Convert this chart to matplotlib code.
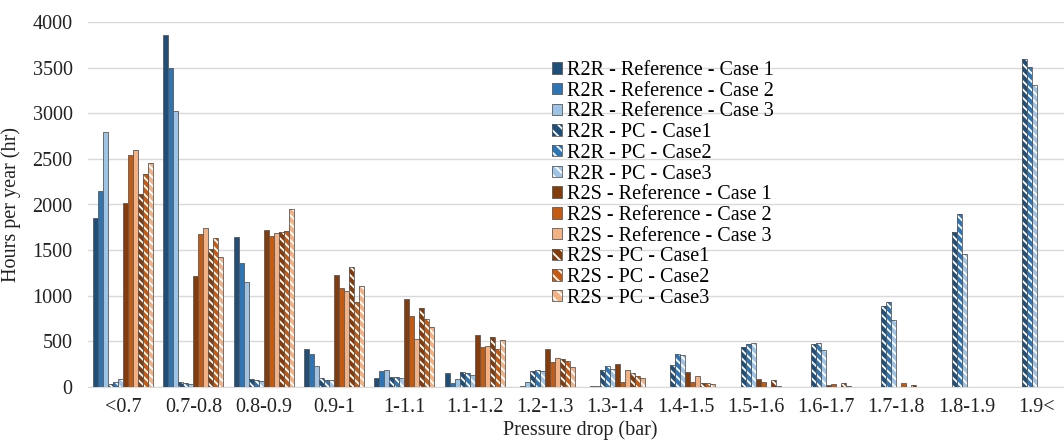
import numpy as np
import matplotlib
matplotlib.use("Agg")
import matplotlib.pyplot as plt
from matplotlib.patches import Patch

plt.rcParams['font.family'] = ['Liberation Serif', 'DejaVu Serif']
plt.rcParams['hatch.linewidth'] = 1.3

categories = ['<0.7', '0.7-0.8', '0.8-0.9', '0.9-1', '1-1.1', '1.1-1.2', '1.2-1.3',
              '1.3-1.4', '1.4-1.5', '1.5-1.6', '1.6-1.7', '1.7-1.8', '1.8-1.9', '1.9<']

# hours per year for each pressure-drop bin
r2r_ref_c1 = [1850, 3855, 1640, 412, 102, 150, 0, 0, 0, 0, 0, 0, 0, 0]
r2r_ref_c2 = [2150, 3500, 1355, 365, 179, 47, 15, 10, 0, 0, 0, 0, 0, 0]
r2r_ref_c3 = [2790, 3030, 1153, 230, 183, 84, 58, 15, 0, 0, 0, 0, 0, 0]
r2r_pc_c1 = [30, 58, 84, 95, 113, 168, 172, 186, 237, 434, 471, 887, 1701, 3592]
r2r_pc_c2 = [55, 44, 77, 80, 113, 150, 186, 230, 358, 467, 478, 934, 1898, 3504]
r2r_pc_c3 = [88, 37, 62, 73, 99, 131, 179, 197, 347, 478, 401, 734, 1456, 3311]
r2s_ref_c1 = [2020, 1212, 1719, 1226, 964, 566, 416, 248, 161, 84, 18, 0, 0, 0]
r2s_ref_c2 = [2537, 1672, 1650, 1084, 777, 438, 277, 58, 58, 55, 33, 44, 0, 0]
r2s_ref_c3 = [2600, 1741, 1683, 1051, 522, 453, 321, 186, 124, 0, 0, 0, 0, 0]
r2s_pc_c1 = [2117, 1511, 1694, 1310, 869, 551, 310, 157, 40, 73, 40, 22, 0, 0]
r2s_pc_c2 = [2336, 1628, 1705, 934, 745, 412, 288, 124, 44, 11, 7, 0, 0, 0]
r2s_pc_c3 = [2456, 1420, 1953, 1102, 653, 511, 219, 102, 29, 0, 0, 0, 0, 0]

series = [
    ("R2R - Reference - Case 1", r2r_ref_c1, '#1F4E79', False),
    ("R2R - Reference - Case 2", r2r_ref_c2, '#2E75B6', False),
    ("R2R - Reference - Case 3", r2r_ref_c3, '#9DC3E6', False),
    ("R2R - PC - Case1", r2r_pc_c1, '#1F4E79', True),
    ("R2R - PC - Case2", r2r_pc_c2, '#2E75B6', True),
    ("R2R - PC - Case3", r2r_pc_c3, '#9DC3E6', True),
    ("R2S - Reference - Case 1", r2s_ref_c1, '#843C0C', False),
    ("R2S - Reference - Case 2", r2s_ref_c2, '#C55A11', False),
    ("R2S - Reference - Case 3", r2s_ref_c3, '#F4B183', False),
    ("R2S - PC - Case1", r2s_pc_c1, '#843C0C', True),
    ("R2S - PC - Case2", r2s_pc_c2, '#C55A11', True),
    ("R2S - PC - Case3", r2s_pc_c3, '#F4B183', True),
]

fig = plt.figure(figsize=(10.64, 4.4), dpi=100)
ax = fig.add_axes([88/1064, 53/440, 984/1064, 365/440])

x = np.arange(len(categories))
w = 0.071
edge = '#5a5a5a'
hatch = '\\\\\\\\'
fs = 14.5
handles = []
for j, (name, vals, col, pc) in enumerate(series):
    pos = x + (j - 5.5) * w
    if pc:
        ax.bar(pos, vals, w, color=col, edgecolor='white', hatch=hatch, linewidth=0, zorder=3)
        ax.bar(pos, vals, w, fill=False, edgecolor=edge, linewidth=0.6, zorder=4)
        h = (Patch(facecolor=col, edgecolor='white', hatch='\\\\\\', linewidth=0),
             Patch(fill=False, edgecolor=edge, linewidth=0.6))
    else:
        ax.bar(pos, vals, w, color=col, edgecolor=edge, linewidth=0.6, zorder=3)
        h = Patch(facecolor=col, edgecolor=edge, linewidth=0.6)
    handles.append(h)

ax.set_xlim(-0.5, 13.5)
ax.set_ylim(0, 4000)
ax.set_yticks(range(0, 4001, 500))
ax.set_xticks(x)
ax.set_xticklabels(categories)
ax.grid(axis='y', color='#D9D9D9', linewidth=1, zorder=0)
ax.set_axisbelow(True)
for s in ['top', 'right', 'left']:
    ax.spines[s].set_visible(False)
ax.spines['bottom'].set_color('#D9D9D9')
ax.tick_params(axis='both', length=0, labelsize=fs, colors='#222222')
ax.tick_params(axis='y', pad=11)
ax.tick_params(axis='x', pad=8)

ax.set_xlabel("Pressure drop (bar)", fontsize=fs, color='#222222')
ax.set_ylabel("Hours per year (hr)", fontsize=fs, color='#222222')
ax.xaxis.set_label_coords(0.5, -0.092)
ax.yaxis.set_label_coords(-0.068, 0.5)

fig.legend(handles, [s[0] for s in series], loc='upper left',
           bbox_to_anchor=(552/1064, 1 - 61/440), frameon=False,
           fontsize=fs, handlelength=0.5, handleheight=0.5, handletextpad=0.25,
           labelspacing=0.085, borderpad=0, borderaxespad=0)

fig.savefig("out.png", dpi=100)
